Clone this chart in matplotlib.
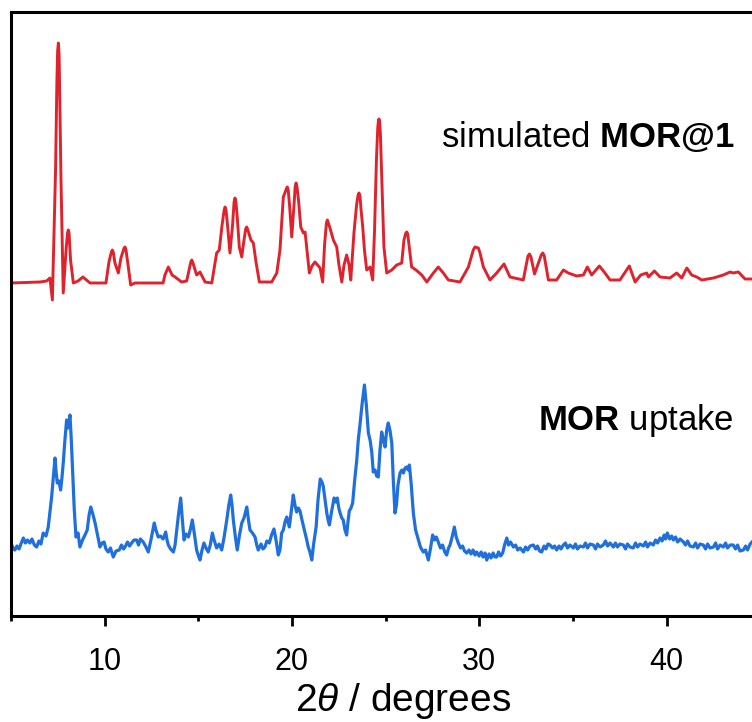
import matplotlib
matplotlib.use("Agg")
import matplotlib.pyplot as plt

plt.rcParams['font.family'] = ['Liberation Sans', 'DejaVu Sans']
plt.rcParams['mathtext.fontset'] = 'custom'
plt.rcParams['mathtext.rm'] = 'Liberation Sans'
plt.rcParams['mathtext.it'] = 'Liberation Sans:italic'
plt.rcParams['mathtext.bf'] = 'Liberation Sans:bold'

# simulated pattern (2theta in degrees, intensity above its own baseline)
sim_2theta = [5.00, 6.55, 6.90, 7.08, 7.21, 7.38, 7.45, 7.49, 7.53, 7.57, 7.60, 7.67, 7.79, 7.94, 8.02,
              8.06, 8.10, 8.18, 8.33,
              8.58, 8.84, 9.22, 10.07, 10.23, 10.36, 10.41, 10.46, 10.55, 10.73, 10.87, 11.04, 11.09,
              11.14, 11.25, 11.39, 11.62,
              13.12, 13.22, 13.40, 13.60, 13.76, 14.11, 14.38, 14.60, 14.65, 14.70, 14.91, 15.09, 15.36,
              15.72, 15.98, 16.12, 16.27, 16.38, 16.43, 16.48, 16.56, 16.69, 16.83, 16.91, 16.96,
              17.01, 17.07, 17.19, 17.32, 17.44, 17.53, 17.58, 17.63, 17.81, 17.94, 18.08, 18.26,
              18.92, 19.19, 19.36, 19.54, 19.70, 19.75, 19.80, 19.87, 19.99,
              20.11, 20.17, 20.22, 20.27, 20.35, 20.47, 20.61, 20.70, 20.80, 20.93, 21.07, 21.23,
              21.50, 21.64, 21.74, 21.84, 21.89, 21.94, 22.03, 22.21, 22.39, 22.51, 22.66, 22.78,
              22.92, 23.05, 23.14, 23.21, 23.31, 23.45, 23.53, 23.58, 23.63, 23.69, 23.78, 23.87,
              23.99, 24.17, 24.31, 24.41, 24.51, 24.58, 24.62, 24.65, 24.68, 24.72, 24.78, 24.91,
              25.06, 25.33, 25.59, 25.86, 25.98, 26.08, 26.13, 26.18, 26.25, 26.39, 26.62, 26.93,
              27.20, 27.55, 27.81, 28.08, 28.35, 28.97, 29.42, 29.68, 29.77, 29.95, 30.04, 30.22,
              30.57, 30.93, 31.32, 31.64, 32.35, 32.60, 32.68, 32.76, 32.95, 33.31, 33.39, 33.47,
              33.69, 34.13, 34.49, 34.75, 35.20, 35.56, 35.77, 36.00, 36.41, 36.71, 36.98, 37.51,
              38.01, 38.32, 38.62, 38.94, 39.03, 39.35, 39.65, 40.18, 40.54, 40.81, 41.08, 41.34,
              41.61, 41.88, 42.50, 43.03, 43.39, 43.56, 43.83, 44.19, 44.56]
sim_int = [0, 1, 2, 5, -17, 113, 200, 232, 240, 228, 190, 103, -10, 33, 50,
           53, 50, 23, 0,
           2, 6, 0, 0, 21, 31, 33, 31, 20, 10, 25, 35, 36,
           33, 18, -2, 0,
           0, 8, 16, 8, 6, 1, 2, 21, 23, 21, 8, 11, 1,
           0, 30, 33, 58, 73, 76, 73, 58, 30, 58, 81, 85,
           81, 68, 36, 26, 43, 54, 56, 54, 43, 40, 21, 1,
           1, 10, 33, 86, 94, 96, 93, 78, 46,
           78, 96, 100, 96, 83, 56, 50, 51, 33, 10, 17, 21,
           15, 1, 38, 60, 63, 60, 55, 43, 36, 18, 1, 18,
           28, 18, 3, 23, 50, 78, 88, 90, 87, 73, 56, 33,
           13, 16, 3, 53, 123, 155, 163, 164, 162, 150, 113, 36,
           10, 13, 18, 20, 43, 50, 51, 49, 38, 16, 13, 8,
           1, 10, 16, 10, 3, 1, 16, 33, 36, 35, 30, 16,
           3, 10, 19, 6, 3, 27, 29, 26, 9, 28, 30, 27,
           3, 3, 13, 10, 7, 8, 16, 8, 17, 10, 3, 3,
           17, 1, 8, 10, 6, 12, 6, 5, 10, 5, 15, 8,
           6, 3, 5, 8, 11, 10, 11, 4, 4]
sim_offset = 282

# measured pattern after MOR uptake
exp_2theta = [5.04, 5.13, 5.21, 5.32, 5.43, 5.53, 5.66, 5.77, 5.88, 6.01, 6.12, 6.25, 6.37, 6.49, 6.60,
              6.72, 6.87, 6.99, 7.08, 7.17, 7.27, 7.35, 7.41, 7.47, 7.56, 7.65, 7.72, 7.79, 7.88,
              7.97, 8.04, 8.15, 8.22, 8.29, 8.38, 8.47, 8.58, 8.68, 8.82, 8.95, 9.07, 9.17, 9.26,
              9.37, 9.49, 9.62, 9.75, 9.86, 9.97, 10.07, 10.19, 10.31, 10.46, 10.61, 10.78, 10.90,
              11.01, 11.09, 11.22, 11.33, 11.44, 11.57, 11.71, 11.81, 11.91, 12.06, 12.18, 12.33,
              12.47, 12.65, 12.74, 12.86, 12.98, 13.12, 13.26, 13.33, 13.40, 13.52, 13.67, 13.76,
              13.85, 13.94, 14.06, 14.15, 14.24, 14.34, 14.47, 14.57, 14.68, 14.80, 14.91, 15.01,
              15.09, 15.20, 15.30, 15.41, 15.53, 15.64, 15.75, 15.86, 15.98, 16.11, 16.25, 16.37,
              16.52, 16.63, 16.73, 16.80, 16.87, 16.98, 17.08, 17.20, 17.32, 17.44, 17.59, 17.68,
              17.76, 17.89, 18.03, 18.12, 18.20, 18.35, 18.45, 18.56, 18.66, 18.79, 18.91, 19.04,
              19.15, 19.27, 19.36, 19.45, 19.54, 19.63, 19.72, 19.86, 19.97, 20.07, 20.16, 20.25,
              20.34, 20.43, 20.56, 20.70, 20.79, 20.87, 20.96, 21.06, 21.15, 21.29, 21.39, 21.51,
              21.60, 21.67, 21.77, 21.86, 21.93, 22.00, 22.11, 22.25, 22.34, 22.42, 22.50, 22.57,
              22.66, 22.74, 22.83, 22.92, 22.99, 23.06, 23.15, 23.24, 23.35, 23.46, 23.54, 23.63,
              23.75, 23.87, 23.97, 24.08, 24.17, 24.26, 24.34, 24.44, 24.52, 24.61, 24.70, 24.79,
              24.88, 24.97, 25.06, 25.14, 25.23, 25.33, 25.41, 25.50, 25.58, 25.66, 25.77, 25.87,
              25.95, 26.04, 26.13, 26.21, 26.27, 26.37, 26.48, 26.60, 26.75, 26.86, 27.01, 27.13,
              27.28, 27.40, 27.51, 27.61, 27.71, 27.81, 27.93, 28.04, 28.16, 28.26, 28.36, 28.44,
              28.55, 28.67, 28.77, 28.88, 29.00, 29.11, 29.21, 29.33, 29.45, 29.56, 29.67, 29.77,
              29.86, 29.99, 30.10, 30.20, 30.31, 30.40, 30.52, 30.63, 30.74, 30.84, 30.93, 31.03,
              31.14, 31.25, 31.35, 31.47, 31.56, 31.67, 31.82, 31.94, 32.05, 32.18, 32.36, 32.47,
              32.58, 32.71, 32.89, 33.01, 33.11, 33.22, 33.33, 33.46, 33.56, 33.67, 33.78, 33.91,
              34.02, 34.13, 34.26, 34.36, 34.49, 34.60, 34.71, 34.84, 35.02, 35.14, 35.24, 35.38,
              35.56, 35.67, 35.78, 35.91, 36.09, 36.21, 36.31, 36.45, 36.62, 36.74, 36.85, 36.98,
              37.16, 37.27, 37.38, 37.51, 37.69, 37.81, 37.91, 38.05, 38.22, 38.34, 38.45, 38.58,
              38.76, 38.88, 38.98, 39.12, 39.29, 39.41, 39.52, 39.65, 39.76, 39.87, 39.95, 40.04,
              40.16, 40.27, 40.36, 40.48, 40.59, 40.72, 40.90, 41.01, 41.12, 41.25, 41.43, 41.55,
              41.65, 41.79, 41.96, 42.08, 42.19, 42.32, 42.50, 42.62, 42.72, 42.86, 43.03, 43.15,
              43.25, 43.39, 43.56, 43.68, 43.79, 43.92, 44.10, 44.22, 44.32, 44.46, 44.56]
exp_int = [20, 16, 15, 19, 16, 21, 27, 22, 25, 22, 26, 20, 18, 24, 21,
           32, 29, 38, 53, 68, 90, 107, 93, 82, 84, 75, 87, 102, 125,
           145, 137, 150, 125, 95, 55, 28, 32, 18, 25, 30, 35, 50, 58,
           51, 42, 30, 18, 22, 23, 16, 13, 17, 8, 14, 15, 20,
           16, 18, 23, 19, 22, 25, 25, 20, 26, 23, 19, 13,
           25, 42, 35, 28, 29, 26, 33, 25, 20, 16, 13, 20,
           35, 50, 67, 45, 25, 31, 28, 35, 45, 30, 15, 9,
           5, 15, 22, 17, 13, 20, 32, 24, 17, 21, 15, 27,
           45, 60, 70, 60, 45, 28, 15, 30, 42, 47, 58, 45,
           35, 32, 28, 20, 15, 21, 16, 18, 24, 22, 30, 36,
           25, 10, 15, 32, 35, 43, 48, 38, 55, 70, 60, 53,
           57, 54, 43, 32, 25, 18, 13, 5, 20, 38, 65, 86,
           83, 79, 65, 52, 45, 40, 53, 67, 63, 67, 57, 52,
           47, 45, 35, 30, 43, 54, 57, 62, 85, 105, 125, 140,
           162, 180, 160, 132, 125, 113, 93, 95, 89, 88, 115, 133,
           125, 118, 135, 142, 135, 122, 85, 52, 60, 80, 92, 95,
           92, 97, 98, 95, 100, 80, 52, 35, 25, 18, 13, 15,
           5, 17, 30, 25, 28, 23, 17, 20, 13, 10, 17, 20,
           28, 38, 28, 22, 17, 19, 14, 12, 15, 11, 15, 10,
           13, 9, 13, 8, 12, 5, 11, 7, 12, 8, 8, 13,
           9, 12, 20, 27, 20, 23, 18, 20, 15, 17, 13, 18,
           15, 19, 20, 16, 19, 14, 13, 19, 16, 21, 20, 17,
           19, 15, 19, 16, 20, 22, 17, 20, 17, 21, 16, 19,
           18, 22, 17, 21, 20, 16, 21, 18, 20, 24, 19, 22,
           18, 22, 18, 21, 20, 16, 21, 18, 17, 22, 18, 21,
           19, 23, 18, 22, 20, 25, 22, 27, 24, 30, 26, 32,
           26, 29, 25, 28, 23, 26, 23, 20, 24, 19, 18, 22,
           17, 21, 20, 16, 21, 17, 18, 22, 16, 20, 18, 22,
           17, 20, 20, 16, 20, 14, 15, 19, 15, 21, 23]

red = '#e0222c'
blue = '#1f6fdc'

fig = plt.figure(figsize=(7.52, 7.22), dpi=100)
ax = fig.add_axes([0.0146, 0.1468, 0.9854, 0.8366])

ax.plot(sim_2theta, [v + sim_offset for v in sim_int], color=red, lw=2.1,
        solid_joinstyle='round')
ax.plot(exp_2theta, exp_int, color=blue, lw=2.3, solid_joinstyle='round')

ax.set_xlim(5, 44.56)
ax.set_ylim(-51, 553)

ax.set_xticks([10, 20, 30, 40])
ax.set_xticks([5, 15, 25, 35], minor=True)
ax.set_yticks([])
ax.tick_params(axis='x', which='major', direction='out', length=7.5, width=2, labelsize=22, pad=15)
ax.tick_params(axis='x', which='minor', direction='out', length=3.5, width=2)

for side in ['top', 'left', 'bottom']:
    ax.spines[side].set_linewidth(2.2)
ax.spines['right'].set_visible(False)

ax.set_xlabel(r'$\mathit{2\theta}$ / degrees', fontsize=28, va='baseline')
ax.xaxis.set_label_coords(0.529, -0.157)

ax.text(0.977, 0.777, r'simulated $\mathbf{MOR@1}$', transform=ax.transAxes,
        ha='right', va='baseline', fontsize=25)
ax.text(0.975, 0.308, r'$\mathbf{MOR}$ uptake', transform=ax.transAxes,
        ha='right', va='baseline', fontsize=25)

fig.savefig('out.png', dpi=100)
